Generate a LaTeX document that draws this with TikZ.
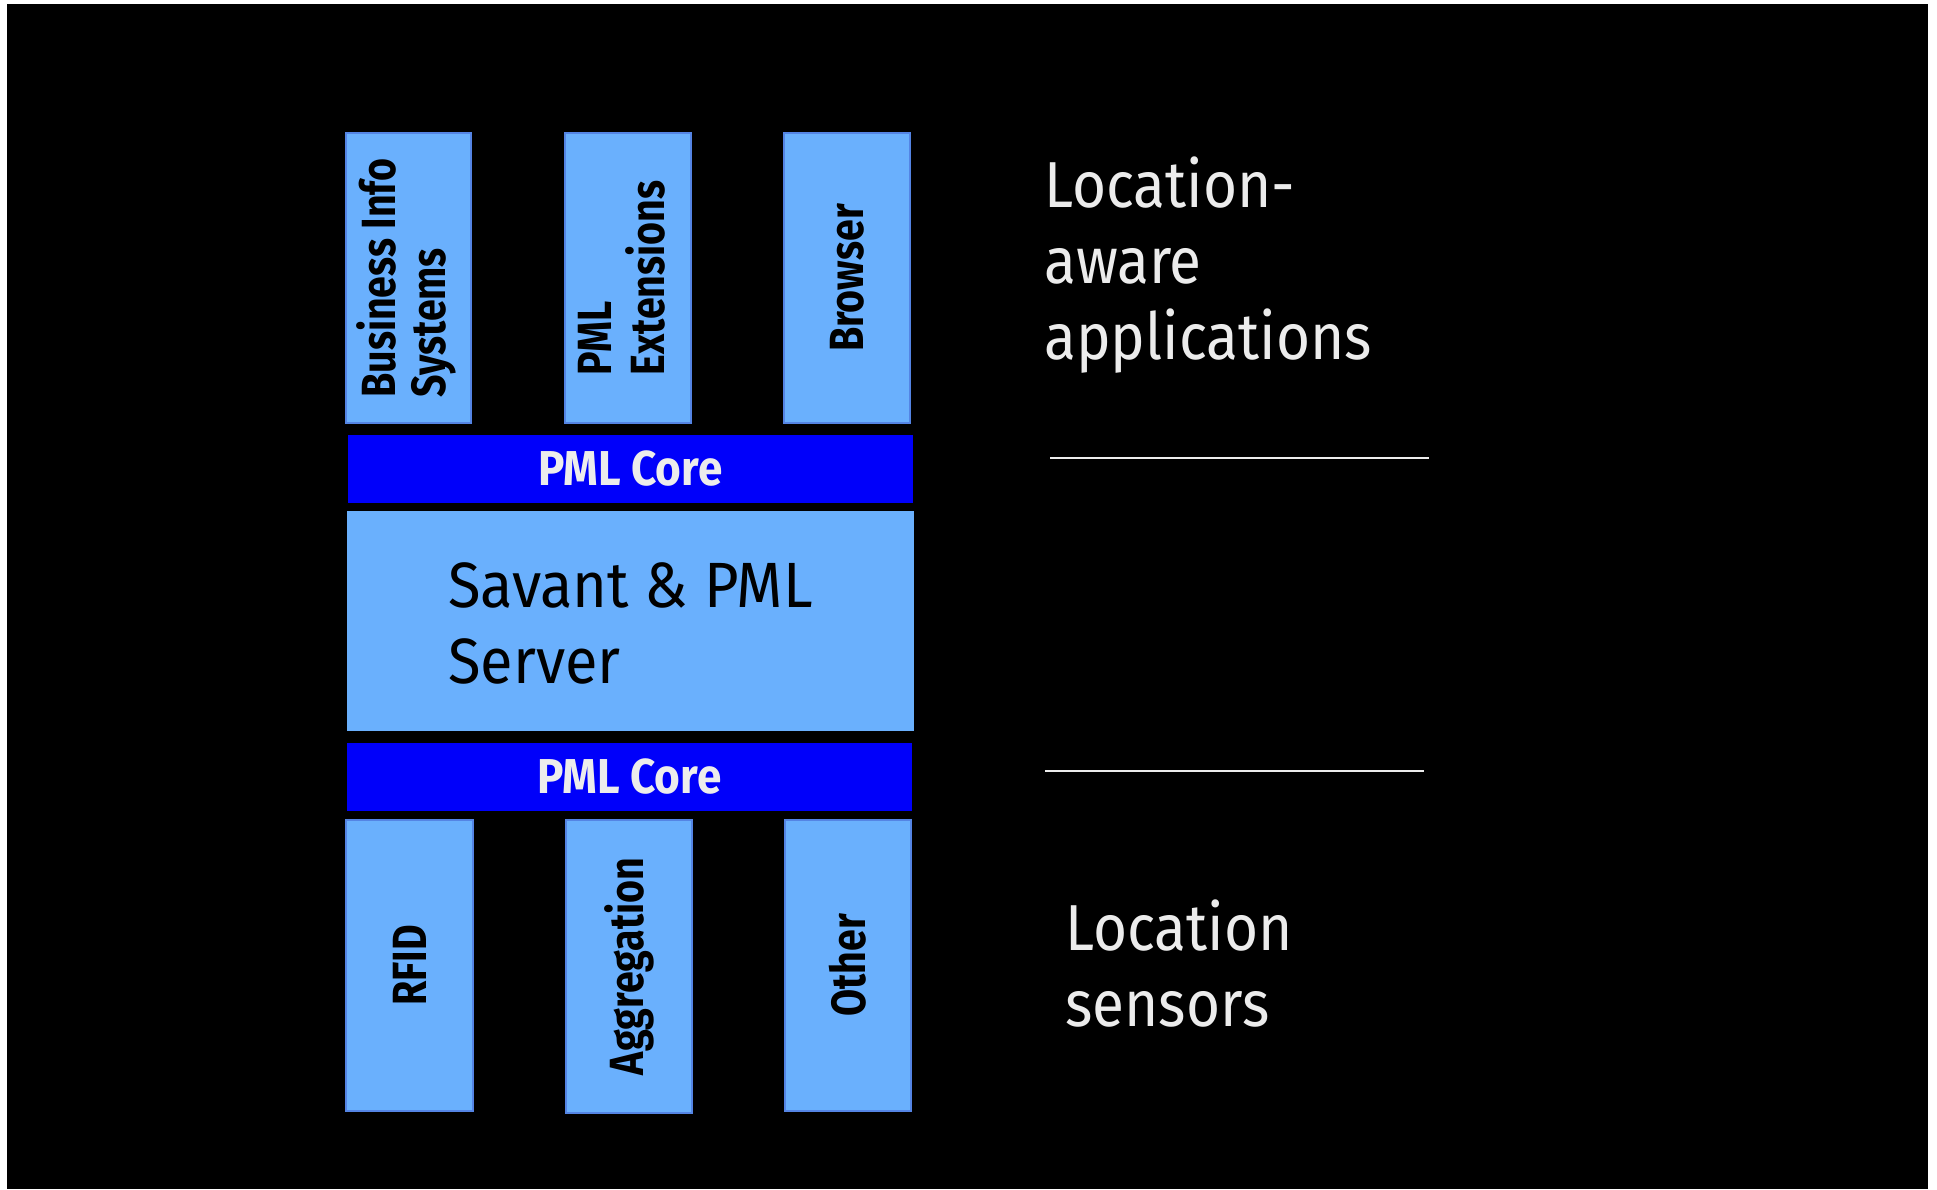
\documentclass[tikz,border=0pt]{standalone}
\usepackage{fontspec}
\setmainfont{Fira Sans}
\setsansfont{Fira Sans}
\newfontfamily\labelfnt[FakeStretch=0.82]{Fira Sans}
\newfontfamily\corefnt[FakeStretch=0.9]{Fira Sans}
\newfontfamily\sidefnt[FakeStretch=0.9]{Fira Sans}
\newfontfamily\savfnt[FakeStretch=0.93]{Fira Sans}
\definecolor{boxblue}{RGB}{106,176,253}
\definecolor{boxedge}{RGB}{84,132,228}
\definecolor{coreblue}{RGB}{0,0,250}
\definecolor{offwhite}{RGB}{236,236,236}
\begin{document}
\begin{tikzpicture}[x=0.5pt,y=-0.5pt,
  appbox/.style={draw=boxedge, line width=0.8pt, fill=boxblue, inner sep=0pt,
    font=\labelfnt\bfseries\fontsize{24}{25}\selectfont, text=black},
  corebar/.style={fill=coreblue, inner sep=0pt,
    font=\corefnt\bfseries\fontsize{24.5}{26}\selectfont, text=offwhite},
  savbox/.style={fill=boxblue, inner sep=0pt,
    font=\savfnt\fontsize{32}{38}\selectfont, text=black},
  sidelabel/.style={inner sep=0pt, text=offwhite,
    font=\sidefnt\fontsize{32.5}{38}\selectfont},
  sepline/.style={draw=offwhite, line width=1pt}]
\useasboundingbox (0,0) rectangle (1937,1189);
\fill[white] (0,0) rectangle (1937,1189);
\fill[black] (7,4) rectangle (1928,1189);
% top application boxes
\node[appbox, minimum width=62.5pt, minimum height=145pt] (bis) at (408.5,278)
  {\rotatebox{90}{\begin{tabular}{@{}l@{}}Business Info\\Systems\end{tabular}}};
\node[appbox, minimum width=63pt, minimum height=145pt] (pmlx) at (628,278)
  {\rotatebox{90}{\begin{tabular}{@{}l@{}}PML\\Extensions\end{tabular}}};
\node[appbox, minimum width=63pt, minimum height=145pt] (brw) at (847,278)
  {\rotatebox{90}{Browser}};
% core layers
\node[corebar, minimum width=282.5pt, minimum height=34pt] (core1) at (630.5,469) {PML Core};
\node[savbox, minimum width=283.5pt, minimum height=110pt] (sav) at (630.5,621)
  {\begin{tabular}{@{}l@{}}\rule{0pt}{35.6pt}Savant \& PML\\Server\end{tabular}};
\node[corebar, minimum width=282.5pt, minimum height=34pt] (core2) at (629.5,776.5) {PML Core};
% bottom sensor boxes
\node[appbox, minimum width=63.5pt, minimum height=145.5pt] (rfid) at (409.5,965.5)
  {\rotatebox{90}{RFID}};
\node[appbox, minimum width=63pt, minimum height=146.5pt] (agg) at (629,966.5)
  {\rotatebox{90}{Aggregation}};
\node[appbox, minimum width=63pt, minimum height=145.5pt] (oth) at (848,965.5)
  {\rotatebox{90}{Other}};
% side labels
\node[sidelabel, anchor=base west] (apps) at (1044,207)
  {\begin{tabular}[t]{@{}l@{}}Location-\\aware\\applications\end{tabular}};
\node[sidelabel, anchor=base west] (sens) at (1065,950)
  {\begin{tabular}[t]{@{}l@{}}Location\\sensors\end{tabular}};
% separator lines
\coordinate (u1) at (1050,458);
\coordinate (u2) at (1429,458);
\coordinate (l1) at (1045,771);
\coordinate (l2) at (1424,771);
\draw[sepline] (u1) -- (u2);
\draw[sepline] (l1) -- (l2);
\end{tikzpicture}
\end{document}
